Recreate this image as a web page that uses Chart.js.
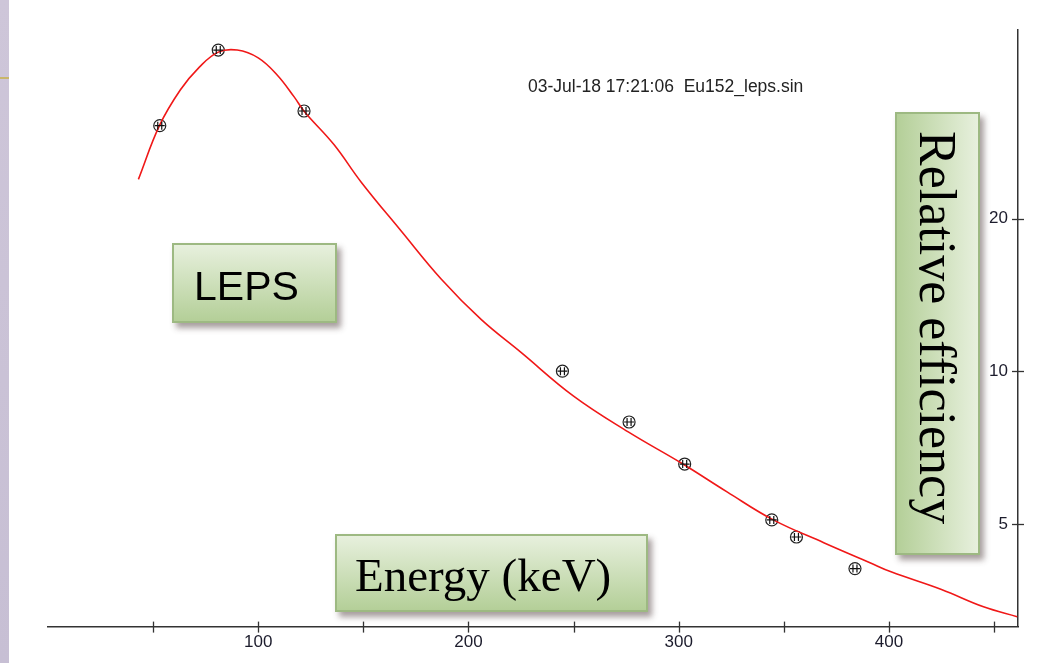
<!DOCTYPE html>
<html>
<head>
<meta charset="utf-8">
<script src="https://cdn.jsdelivr.net/npm/chart.js@4/dist/chart.umd.min.js"></script>
<style>
  html, body { margin: 0; padding: 0; background: #fff; }
  #wrap { position: relative; width: 1038px; height: 663px; overflow: hidden; background: #fff; }
  #strip { position: absolute; left: 0; top: 0; width: 9px; height: 663px; background: linear-gradient(#cec6d9, #c7bfd4); }
  #goldline { position: absolute; left: 0; top: 77px; width: 9px; height: 2px; background: #c9b66a; }
  canvas { position: absolute; left: 0; top: 0; }
  .stamp { position: absolute; left: 528px; top: 76px; font: 17.5px "Liberation Sans", Arial, sans-serif; color: #222; white-space: pre; }
  .box { position: absolute; box-sizing: border-box; border: 2px solid #9db982; box-shadow: 4px 5px 6px rgba(60, 40, 40, 0.45); color: #000; }
  .hbox { background: linear-gradient(#e7f0dd, #b4cf98); }
  #leps { left: 172px; top: 243px; width: 165px; height: 80px; font: 41px "Liberation Sans", Arial, sans-serif; padding: 18px 0 0 20px; }
  #energy { left: 335px; top: 534px; width: 313px; height: 78px; font: 47px "Liberation Serif", "Times New Roman", serif; padding: 12px 0 0 18px; }
  #releff { left: 895px; top: 112px; width: 85px; height: 443px; background: linear-gradient(to right, #b4cf98, #e7f0dd);
            font: 52px "Liberation Serif", "Times New Roman", serif; writing-mode: vertical-rl; padding: 17px 11px 0 0; }
</style>
</head>
<body>
<div id="wrap">
  <div id="strip"></div>
  <div id="goldline"></div>
  <canvas id="chart" width="1038" height="663"></canvas>
  <div class="stamp">03-Jul-18 17:21:06  Eu152_leps.sin</div>
  <div class="box hbox" id="leps">LEPS</div>
  <div class="box hbox" id="energy">Energy (keV)</div>
  <div class="box" id="releff">Relative efficiency</div>
</div>
<script>
// measured efficiencies (Ba-133 / Eu-152 lines)
const pointEnergy = [53.16, 80.99, 121.78, 244.70, 276.40, 302.85, 344.28, 356.01, 383.85];
const pointEff = [30.5, 43.0, 32.6, 10.0, 7.94, 6.56, 5.09, 4.71, 4.08];

// fitted efficiency curve
const curveEnergy = [43, 53, 63, 72, 81, 90, 100, 109, 117, 122, 136, 149, 168, 187, 206, 225, 250, 276, 302, 323, 345, 369, 391, 401, 425, 445, 461];
const curveEff = [23.9, 30.5, 35.9, 39.8, 42.6, 43.0, 41.5, 38.4, 34.8, 32.5, 28.0, 23.6, 18.9, 15.2, 12.65, 10.89, 8.93, 7.59, 6.56, 5.78, 5.09, 4.59, 4.19, 4.02, 3.71, 3.43, 3.28];

const xTicks = [50, 100, 150, 200, 250, 300, 350, 400, 450];
const yTicks = [5, 10, 20];

const axisColor = "#333";

// tick marks crossing both axes + the little error-bar glyph inside each circle
const crossTicks = {
  id: "crossTicks",
  afterDraw(chart) {
    const { ctx, scales: { x, y } } = chart;
    ctx.save();
    ctx.strokeStyle = axisColor;
    ctx.lineWidth = 1.3;
    x.ticks.forEach((t) => {
      const px = Math.round(x.getPixelForValue(t.value)) + 0.5;
      ctx.beginPath();
      ctx.moveTo(px, x.top - 5);
      ctx.lineTo(px, x.top + 6);
      ctx.stroke();
    });
    y.ticks.forEach((t) => {
      const py = Math.round(y.getPixelForValue(t.value)) + 0.5;
      ctx.beginPath();
      ctx.moveTo(y.left - 6, py);
      ctx.lineTo(y.left + 6, py);
      ctx.stroke();
    });
    const meta = chart.getDatasetMeta(1);
    ctx.strokeStyle = "#111";
    ctx.lineWidth = 1.2;
    meta.data.forEach((pt) => {
      ctx.beginPath();
      ctx.moveTo(pt.x - 5, pt.y);
      ctx.lineTo(pt.x + 5, pt.y);
      ctx.moveTo(pt.x - 2, pt.y - 4);
      ctx.lineTo(pt.x - 2, pt.y + 4);
      ctx.moveTo(pt.x + 2, pt.y - 4);
      ctx.lineTo(pt.x + 2, pt.y + 4);
      ctx.stroke();
    });
    ctx.restore();
  },
};

new Chart(document.getElementById("chart").getContext("2d"), {
  type: "scatter",
  data: {
    datasets: [
      {
        type: "line",
        label: "fit",
        data: curveEnergy.map((e, i) => ({ x: e, y: curveEff[i] })),
        borderColor: "#f01818",
        borderWidth: 1.6,
        pointRadius: 0,
        tension: 0.4,
        fill: false,
      },
      {
        label: "data",
        data: pointEnergy.map((e, i) => ({ x: e, y: pointEff[i] })),
        pointRadius: 6,
        pointBorderColor: "#222",
        pointBackgroundColor: "rgba(255,255,255,0)",
        pointBorderWidth: 1.2,
      },
    ],
  },
  options: {
    responsive: false,
    animation: false,
    devicePixelRatio: 1,
    layout: { padding: { left: 48, top: 30, right: 20, bottom: 4 } },
    plugins: { legend: { display: false }, tooltip: { enabled: false } },
    scales: {
      x: {
        type: "linear",
        min: 0,
        max: 461.4,
        afterBuildTicks: (s) => { s.ticks = xTicks.map((v) => ({ value: v })); },
        grid: { drawOnChartArea: false, drawTicks: false },
        border: { color: axisColor, width: 1.5 },
        ticks: {
          padding: 6,
          color: "#1c1c2c",
          font: { family: "'Liberation Sans', Arial, sans-serif", size: 17 },
          callback: (v) => (v % 100 === 0 ? String(v) : ""),
          maxRotation: 0,
          autoSkip: false,
        },
      },
      y: {
        type: "logarithmic",
        position: "right",
        min: 3.135,
        max: 47.1,
        afterBuildTicks: (s) => { s.ticks = yTicks.map((v) => ({ value: v })); },
        grid: { drawOnChartArea: false, drawTicks: false },
        border: { color: axisColor, width: 1.5 },
        ticks: {
          mirror: true,
          padding: -10,
          color: "#1c1c2c",
          font: { family: "'Liberation Sans', Arial, sans-serif", size: 17 },
          callback: (v) => String(v),
          autoSkip: false,
        },
      },
    },
  },
  plugins: [crossTicks],
});
</script>
</body>
</html>
